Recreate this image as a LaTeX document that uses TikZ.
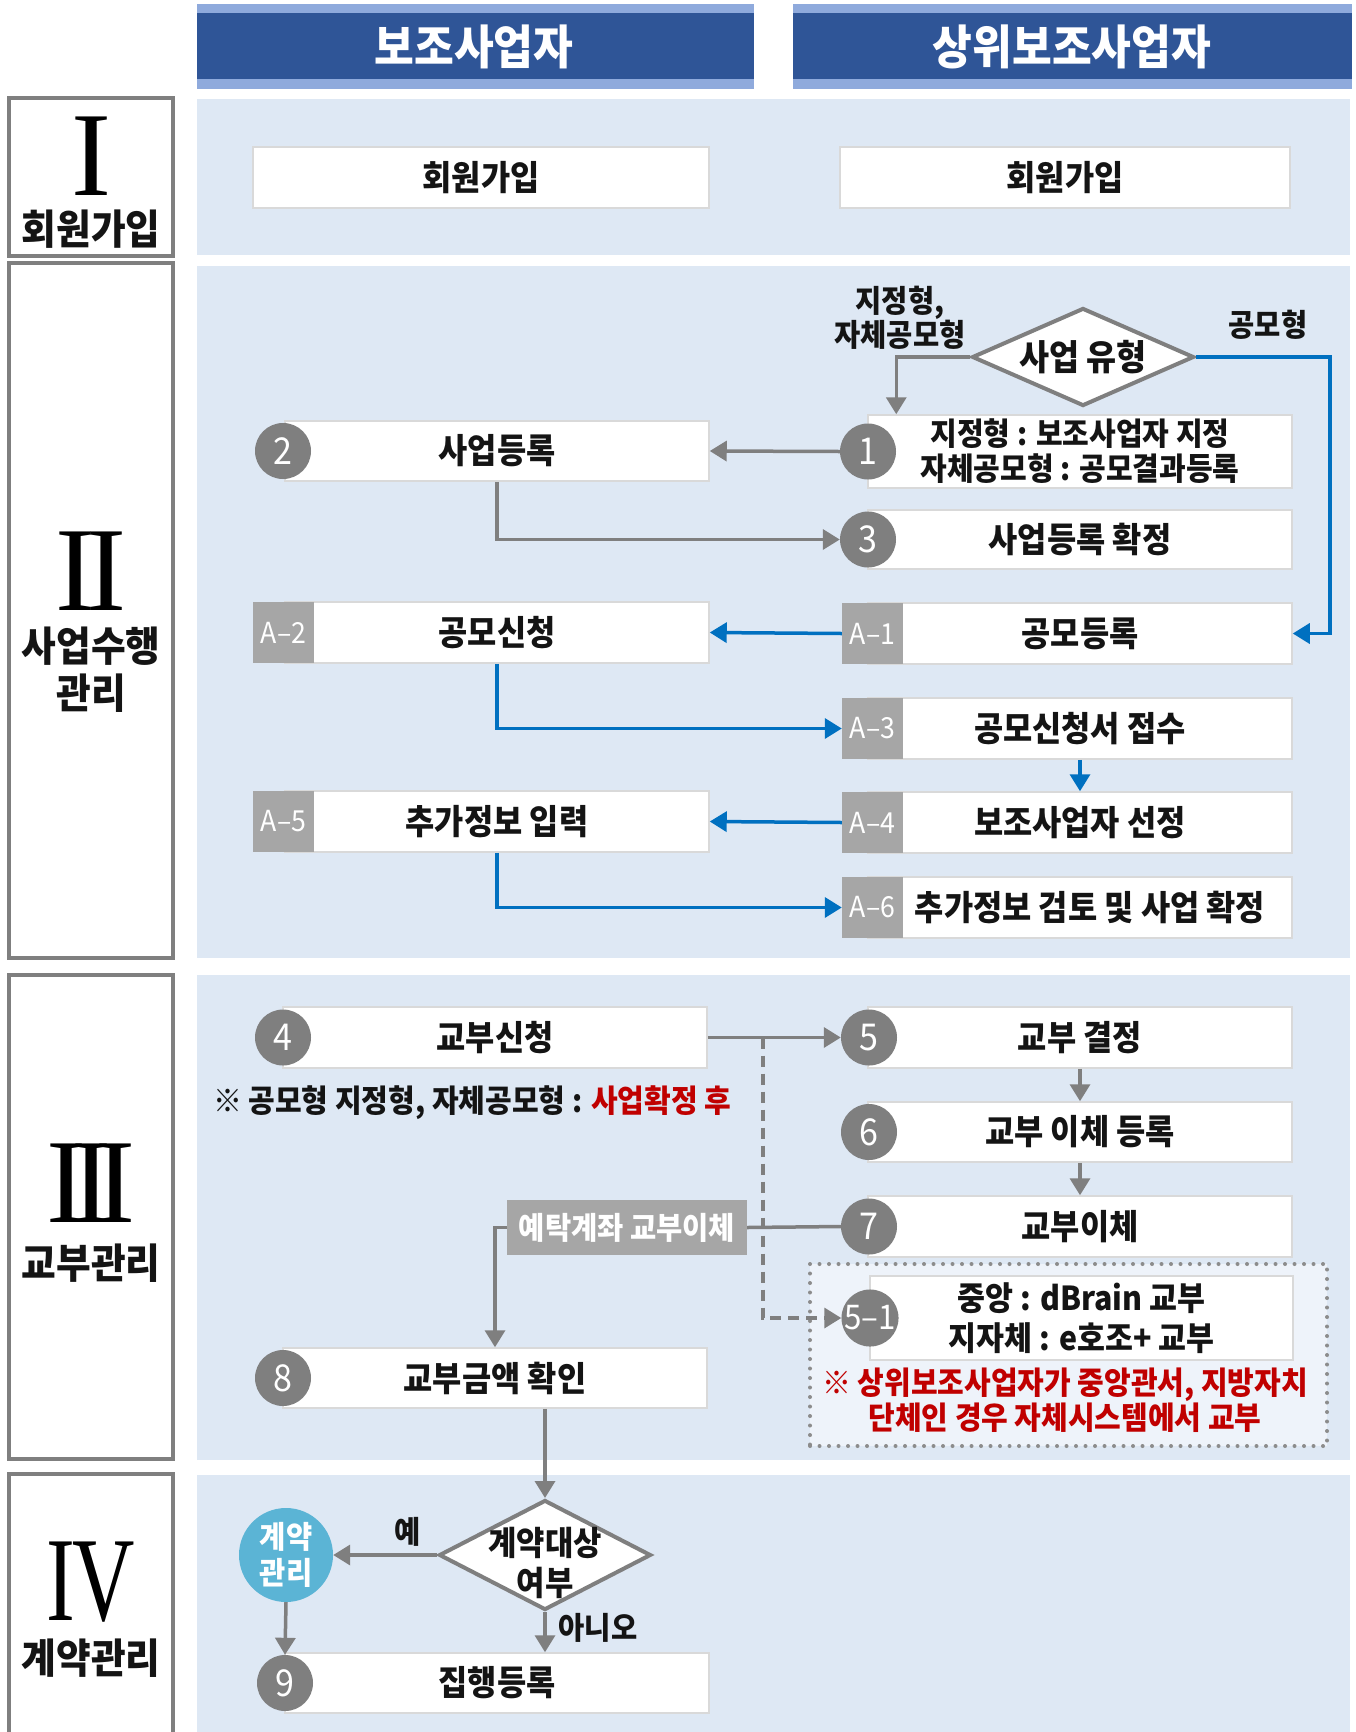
\documentclass[tikz,border=0pt]{standalone}
\usepackage{fontspec}
\setmainfont{Noto Sans CJK KR}[FakeStretch=0.92]
\newfontfamily\romanfont{Liberation Serif}
\usetikzlibrary{arrows.meta,shapes.geometric,calc}
\definecolor{panelblue}{HTML}{DEE8F4}
\definecolor{hdark}{HTML}{2F5597}
\definecolor{hlight}{HTML}{8FAADC}
\definecolor{gline}{HTML}{7F7F7F}
\definecolor{bline}{HTML}{0070C0}
\definecolor{boxedge}{HTML}{D9D9D9}
\definecolor{taggray}{HTML}{A6A6A6}
\definecolor{noteRed}{HTML}{C00000}
\definecolor{cyanfill}{HTML}{5BB4D5}
\definecolor{dotfill}{HTML}{EEF3FA}
\definecolor{dotedge}{HTML}{8C8C8C}
\definecolor{ink}{HTML}{141414}
\newcommand{\fsz}[2]{\fontsize{#1pt}{#2pt}\selectfont}
\tikzset{
  secbox/.style={draw=gline, line width=4pt, fill=white},
  htext/.style={text=white, font=\bfseries\fsz{47}{52}},
  roman/.style={font=\romanfont\fsz{120}{120}, inner sep=0pt, text height=80pt, text depth=0pt},
  seclabel/.style={font=\bfseries\fsz{41}{47}, align=center, text=ink},
  wbox/.style={draw=boxedge, line width=1.5pt, fill=white, inner sep=0pt,
    minimum width=424pt, minimum height=61pt, text=ink, font=\bfseries\fsz{34.5}{38}},
  num/.style={circle, fill=gline, minimum size=56pt, inner sep=0pt, text=white, font=\fsz{37}{40}},
  tagbox/.style={fill=taggray, minimum width=61pt, minimum height=61pt, inner sep=0pt,
    text=white, font=\fsz{29}{30}},
  lbl/.style={font=\bfseries\fsz{31}{33}, align=center, text=ink},
  dia/.style={diamond, draw=gline, line width=4pt, fill=white, inner sep=0pt},
  garrow/.style={draw=gline, line width=3.5pt, -{Triangle[length=17pt,width=20pt]}},
  gline/.style={draw=gline, line width=3.5pt},
  barrow/.style={draw=bline, line width=3.5pt, -{Triangle[length=17pt,width=20pt]}},
  gdash/.style={draw=gline, line width=3.5pt, dash pattern=on 11pt off 7pt, -{Triangle[length=17pt,width=20pt]}},
  dotbox/.style={draw=dotedge, fill=dotfill, line width=4pt, line cap=round, dash pattern=on 0pt off 9.5pt}
}
\begin{document}
\begin{tikzpicture}[x=1pt,y=-1pt]
\path[use as bounding box, fill=white] (0,0) rectangle (1355,1732);
% headers
\fill[hlight] (197,4) rectangle (754,89);
\fill[hdark] (197,13) rectangle (754,79);
\fill[hlight] (793,4) rectangle (1352,89);
\fill[hdark] (793,13) rectangle (1352,79);
\node[htext] (h1) at (474,47) {보조사업자};
\node[htext] (h2) at (1072,47) {상위보조사업자};
% panels
\fill[panelblue] (197,99) rectangle (1350,255);
\fill[panelblue] (197,266) rectangle (1350,958);
\fill[panelblue] (197,975) rectangle (1350,1460);
\fill[panelblue] (197,1475) rectangle (1350,1745);
% section boxes
\draw[secbox] (9,98) rectangle (173,256);
\draw[secbox] (9,263) rectangle (173,958);
\draw[secbox] (9,975) rectangle (173,1459);
\draw[secbox] (9,1474) rectangle (173,1750);
\node[roman, anchor=base] (nI) at (91,195) {I};
\node[roman, anchor=base] (nII) at (91,610) {I\kern-9pt I};
\node[roman, anchor=base] (nIII) at (91,1222) {I\kern-15pt I\kern-15pt I};
\node[roman, anchor=base] (nIV) at (91,1620) {\scalebox{0.72}[1]{I\kern-4pt V}};
\node[seclabel] (lI) at (91,229) {회원가입};
\node[seclabel] (lII) at (91,670) {사업수행\\관리};
\node[seclabel] (lIII) at (91,1263) {교부관리};
\node[seclabel] (lIV) at (91,1658) {계약관리};
% row I
\node[wbox, minimum width=456pt] (r1L) at (481,177.5) {회원가입};
\node[wbox, minimum width=450pt] (r1R) at (1065,177.5) {회원가입};
% row II
\node[dia, minimum width=222pt, minimum height=98pt] (d1) at (1083,357) {};
\node[font=\bfseries\fsz{35.5}{38}, text=ink] (d1t) at (1083,357) {사업 유형};
\node[lbl] (lab1) at (900,318) {지정형,\\자체공모형};
\node[lbl] (lab2) at (1268,325) {공모형};
\node[wbox, minimum height=73pt, align=center, font=\bfseries\fsz{31.5}{35}] (b1) at (1080,451.5) {지정형 : 보조사업자 지정\\자체공모형 : 공모결과등록};
\node[num] (c1) at (868,451.5) {1};
\node[wbox, minimum height=60pt] (b2) at (497,451) {사업등록};
\node[num] (c2) at (283,451) {2};
\node[wbox, minimum height=59pt] (b3) at (1080,539.5) {사업등록 확정};
\node[num] (c3) at (868,539.5) {3};
\node[wbox] (bA1) at (1080,633.5) {공모등록};
\node[tagbox] (tA1) at (872.5,633.5) {A–1};
\node[wbox] (bA2) at (497,632.5) {공모신청};
\node[tagbox] (tA2) at (283.5,632.5) {A–2};
\node[wbox] (bA3) at (1080,728.5) {공모신청서 접수};
\node[tagbox] (tA3) at (872.5,728.5) {A–3};
\node[wbox] (bA4) at (1080,822.5) {보조사업자 선정};
\node[tagbox] (tA4) at (872.5,822.5) {A–4};
\node[wbox] (bA5) at (497,821.5) {추가정보 입력};
\node[tagbox] (tA5) at (283.5,821.5) {A–5};
\node[wbox] (bA6) at (1080,907.5) {};
\node[font=\bfseries\fsz{34.5}{38}, text=ink] (bA6t) at (1090,907.5) {추가정보 검토 및 사업 확정};
\node[tagbox] (tA6) at (872.5,907.5) {A–6};
% row III
\node[wbox] (b4) at (495,1037.5) {교부신청};
\node[num] (c4) at (283,1037.5) {4};
\node[font=\bfseries\fsz{31.5}{34}, text=ink] (note4) at (472,1103) {※ 공모형 지정형, 자체공모형 : \textcolor{noteRed}{사업확정 후}};
\node[wbox] (b5) at (1080,1037.5) {교부 결정};
\node[num] (c5) at (869,1037.5) {5};
\node[wbox, minimum height=60pt] (b6) at (1080,1132) {교부 이체 등록};
\node[num] (c6) at (869,1132) {6};
\node[wbox] (b7) at (1080,1226.5) {교부이체};
\node[num] (c7) at (869,1226.5) {7};
\node[dotbox, minimum width=517pt, minimum height=182pt, inner sep=0pt] (dbox) at (1068.5,1355) {};
\node[wbox, minimum width=423pt, minimum height=84pt, align=center, font=\bfseries\fsz{33}{40}] (b51) at (1081.5,1318) {중앙 : dBrain 교부\\지자체 : e호조+ 교부};
\node[num, font=\fsz{34}{36}] (c51) at (870,1318) {5–1};
\node[font=\bfseries\fsz{31.5}{35}, text=noteRed, align=center] (note51) at (1065,1400.5) {※ 상위보조사업자가 중앙관서, 지방자치\\단체인 경우 자체시스템에서 교부};
\node[tagbox, minimum width=240pt, minimum height=55pt, font=\bfseries\fsz{31}{32}] (tagdep) at (627,1227.5) {예탁계좌 교부이체};
\node[wbox, minimum height=60pt] (b8) at (495,1378) {교부금액 확인};
\node[num] (c8) at (283,1378) {8};
% row IV
\node[dia, minimum width=212pt, minimum height=110pt] (d2) at (545,1555) {};
\node[font=\bfseries\fsz{33.5}{40}, text=ink, align=center] (d2t) at (545,1563) {계약대상\\여부};
\node[circle, fill=cyanfill, minimum size=94pt, inner sep=0pt, text=white, align=center, font=\bfseries\fsz{31}{36}] (ell) at (286,1555) {계약\\관리};
\node[wbox, minimum height=60pt] (b9) at (497,1683) {집행등록};
\node[num] (c9) at (285,1683) {9};
\node[lbl] (yes) at (408,1532) {예};
\node[lbl] (no) at (598,1628) {아니오};
% connectors row II
\draw[garrow] (d1.west) -| ($(b1.north west)+(29,0)$);
\draw[barrow] (d1.east) -- ++(134,0) |- (bA1.east);
\draw[garrow] (c1.west) -- (b2.east);
\draw[garrow] (b2.south) |- (c3.west);
\draw[barrow] (tA1.west) -- (bA2.east);
\draw[barrow] (bA2.south) |- (tA3.west);
\draw[barrow] (bA3.south) -- (bA4.north);
\draw[barrow] (tA4.west) -- (bA5.east);
\draw[barrow] (bA5.south) |- (tA6.west);
% connectors row III
\draw[garrow] (b4.east) -- (c5.west);
\coordinate (split) at ($(b4.east)+(55,0)$);
\draw[gdash] (split) |- (c51.west);
\draw[garrow] (b5.south) -- (b6.north);
\draw[garrow] (b6.south) -- (b7.north);
\draw[gline] (c7.west) -- (tagdep.east);
\draw[garrow] (tagdep.west) -| (b8.north);
\draw[garrow] (d2.north |- b8.south) -- (d2.north);
% connectors row IV
\draw[garrow] (d2.west) -- (ell.east);
\draw[garrow] (ell.south) -- (c9.north);
\draw[garrow] (d2.south) -- (d2.south |- b9.north);
\end{tikzpicture}
\end{document}
